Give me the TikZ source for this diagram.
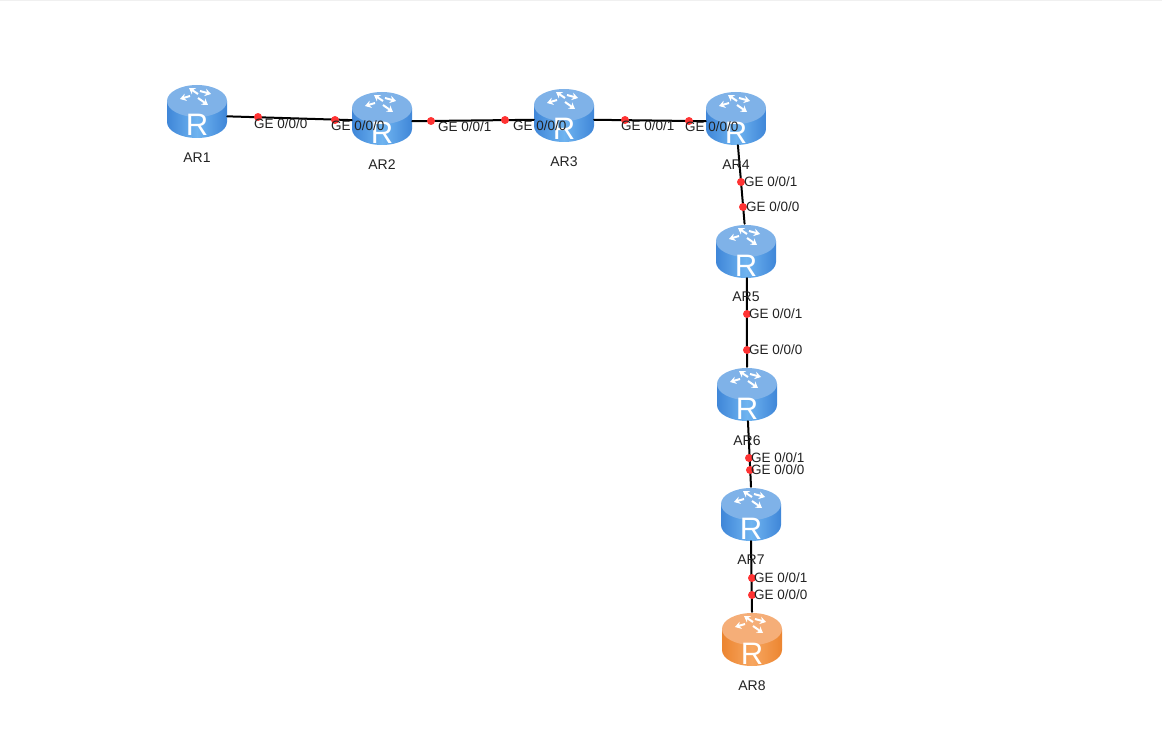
\documentclass[tikz,border=0pt]{standalone}
\usepackage{fontspec}
\setmainfont{Liberation Sans}
\usepackage{xcolor}
\usetikzlibrary{arrows.meta,calc,positioning}
\definecolor{blueTop}{HTML}{7FB2E8}
\definecolor{blueEdge}{HTML}{3F86D8}
\definecolor{blueMid}{HTML}{6FB4F0}
\definecolor{orangeTop}{HTML}{F5AE78}
\definecolor{orangeEdge}{HTML}{EC8530}
\definecolor{orangeMid}{HTML}{F7A660}
\definecolor{inkText}{HTML}{222222}
\tikzset{
  every picture/.style={line cap=round, line join=round},
  routerarrow/.style={draw=white, line width=2pt, line cap=butt, -{Stealth[length=6pt,width=7.5pt]}},
  routerbox/.style={minimum width=60pt, minimum height=54pt, inner sep=0pt},
  routerchar/.style={text=white, inner sep=0pt, anchor=base, font=\fontsize{31}{31}\selectfont},
  arname/.style={text=inkText, inner sep=0pt, font=\fontsize{14}{14}\selectfont},
  port/.style={circle, fill=red!80!white, inner sep=0pt, minimum size=8pt},
  portname/.style={text=inkText, inner sep=0pt, anchor=west, font=\fontsize{13.5}{13.5}\selectfont},
  wire/.style={draw=black, line width=2pt},
  pics/router/.style n args={3}{code={
    \path[left color=#2, right color=#2, middle color=#3]
      (-30,-10) -- (-30,11) arc[start angle=180, end angle=360, x radius=30, y radius=-16] -- (30,-10) -- cycle;
    \fill[#1] (0,-10) ellipse[x radius=30, y radius=16];
    \draw[routerarrow] (1,-17) -- (-8,-23);
    \draw[routerarrow] (3,-20) -- (14,-17);
    \draw[routerarrow] (-7,-15) -- (-17,-12);
    \draw[routerarrow] (1,-13) -- (11,-6);
    \node[routerbox] (-box) at (0,0) {};
    \node[routerchar] (-char) at (0,25) {R};
  }}
}
\begin{document}
\begin{tikzpicture}[x=1pt,y=-1pt]
  \useasboundingbox (0,0) rectangle (1162,741);
  \fill[black!6] (0,0) rectangle (1162,1);

  \pic (ar1) at (197,111) {router={blueTop}{blueEdge}{blueMid}};
  \pic (ar2) at (382,118) {router={blueTop}{blueEdge}{blueMid}};
  \pic (ar3) at (564,115) {router={blueTop}{blueEdge}{blueMid}};
  \pic (ar4) at (736,118) {router={blueTop}{blueEdge}{blueMid}};
  \pic (ar5) at (746,251) {router={blueTop}{blueEdge}{blueMid}};
  \pic (ar6) at (747,394) {router={blueTop}{blueEdge}{blueMid}};
  \pic (ar7) at (751,514) {router={blueTop}{blueEdge}{blueMid}};
  \pic (ar8) at (752,639) {router={orangeTop}{orangeEdge}{orangeMid}};

  \draw[wire] (ar1-box.-10)--(ar2-box.184);
  \draw[wire] (ar2-box.-6)--(ar3-box.189);
  \draw[wire] (ar3-box.-9)--(ar4-box.186);
  \draw[wire] (ar4-box.-86)--(ar5-box.93);
  \draw[wire] (ar5-box.-88)--(ar6-box.north);
  \draw[wire] (ar6-box.-88)--(ar7-box.north);
  \draw[wire] (ar7-box.south)--(ar8-box.north);

  \node[arname,below=14pt of ar1-box] (n1) {AR1};
  \node[arname,below=14pt of ar2-box] (n2) {AR2};
  \node[arname,below=14pt of ar3-box] (n3) {AR3};
  \node[arname,below=14pt of ar4-box] (n4) {AR4};
  \node[arname,below=13pt of ar5-box] (n5) {AR5};
  \node[arname,below=14pt of ar6-box] (n6) {AR6};
  \node[arname,below=13pt of ar7-box] (n7) {AR7};
  \node[arname,below=14pt of ar8-box] (n8) {AR8};

  \node[port] (p1) at (258,117) {};
  \node[port] (p2) at (335,120) {};
  \node[port] (p3) at (431,121) {};
  \node[port] (p4) at (505,120) {};
  \node[port] (p5) at (625,120) {};
  \node[port] (p6) at (689,121) {};
  \node[port] (p7) at (741,182) {};
  \node[port] (p8) at (743,207) {};
  \node[port] (p9) at (747,314) {};
  \node[port] (p10) at (747,350) {};
  \node[port] (p11) at (749,458) {};
  \node[port] (p12) at (750,470) {};
  \node[port] (p13) at (752,578) {};
  \node[port] (p14) at (752,595) {};

  \node[portname] (l1) at (254,124) {GE 0/0/0};
  \node[portname] (l2) at (331,126) {GE 0/0/0};
  \node[portname] (l3) at (438,127) {GE 0/0/1};
  \node[portname] (l4) at (513,126) {GE 0/0/0};
  \node[portname] (l5) at (621,126) {GE 0/0/1};
  \node[portname] (l6) at (685,127) {GE 0/0/0};
  \node[portname] (l7) at (744,182) {GE 0/0/1};
  \node[portname] (l8) at (746,207) {GE 0/0/0};
  \node[portname] (l9) at (749,314) {GE 0/0/1};
  \node[portname] (l10) at (749,350) {GE 0/0/0};
  \node[portname] (l11) at (751,458) {GE 0/0/1};
  \node[portname] (l12) at (751,470) {GE 0/0/0};
  \node[portname] (l13) at (754,578) {GE 0/0/1};
  \node[portname] (l14) at (754,595) {GE 0/0/0};
\end{tikzpicture}
\end{document}
